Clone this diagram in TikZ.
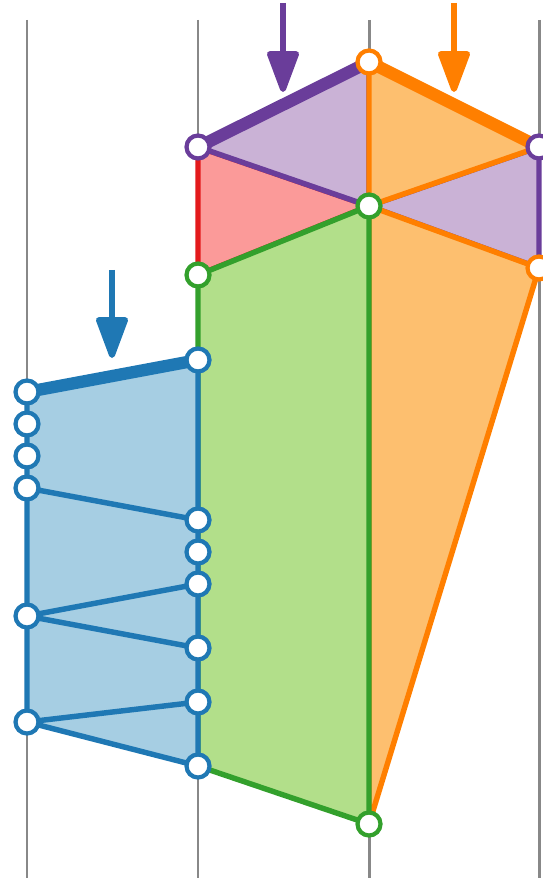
\documentclass[tikz,border=0pt]{standalone}
\usetikzlibrary{arrows.meta}
\definecolor{lblue}{RGB}{166,206,227}
\definecolor{dblue}{RGB}{31,120,180}
\definecolor{lgreen}{RGB}{178,223,138}
\definecolor{dgreen}{RGB}{51,160,44}
\definecolor{lred}{RGB}{251,154,153}
\definecolor{dred}{RGB}{227,26,28}
\definecolor{lorange}{RGB}{253,191,111}
\definecolor{dorange}{RGB}{255,127,0}
\definecolor{lpurple}{RGB}{202,178,214}
\definecolor{dpurple}{RGB}{106,61,154}
\definecolor{railgray}{RGB}{136,136,136}
\tikzset{
  rail/.style={line width=1.7pt, railgray},
  face/.style={line width=3.1pt, line join=round},
  rim/.style={line width=7pt, line cap=round},
  push/.style={-{Triangle[length=0.94cm,width=0.66cm,round]}, line width=3.4pt},
  ring/.style={circle, fill=white, line width=2.4pt, minimum size=0.46cm, inner sep=0pt},
}
\newcommand{\ringpt}[2]{%
  \node[ring, draw=#1] (n-#2) at (#2) {};
}

\begin{document}
\begin{tikzpicture}[x=0.02cm, y=-0.02cm]
    \useasboundingbox (0,0) rectangle (542,878);
    % vertical rails
    \foreach \x in {27,198,369,539}
      \draw[rail] (\x,20) -- (\x,878);
    % mesh points
    \coordinate (p1) at (198,147);
    \coordinate (top) at (369,62);
    \coordinate (p3) at (539,147);
    \coordinate (c) at (369,206);
    \coordinate (g1) at (198,275);
    \coordinate (o1) at (539,268);
    \coordinate (bot) at (369,824);
    \coordinate (g2) at (198,766);
    \foreach \i/\y in {1/392,2/424,3/456,4/488,5/616,6/722}
      \coordinate (l\i) at (27,\y);
    \foreach \i/\y in {1/360,2/520,3/552,4/584,5/648,6/702}
      \coordinate (r\i) at (198,\y);
    % red face
    \filldraw[face, fill=lred, draw=dred] (p1) -- (c) -- (g1) -- cycle;
    % purple faces
    \filldraw[face, fill=lpurple, draw=dpurple] (p1) -- (top) -- (c) -- cycle;
    \filldraw[face, fill=lpurple, draw=dpurple] (p3) -- (c) -- (o1) -- cycle;
    \draw[rim, dpurple] (p1) -- (top);
    % orange faces
    \filldraw[face, fill=lorange, draw=dorange] (top) -- (p3) -- (c) -- cycle;
    \filldraw[face, fill=lorange, draw=dorange] (c) -- (o1) -- (bot) -- cycle;
    \draw[rim, dorange] (top) -- (p3);
    % green face
    \filldraw[face, fill=lgreen, draw=dgreen] (g1) -- (c) -- (bot) -- (g2) -- cycle;
    % blue strip
    \filldraw[face, fill=lblue, draw=dblue] (l1) -- (r1) -- (g2) -- (l6) -- cycle;
    \draw[face, dblue] (l4) -- (r2);
    \draw[face, dblue] (r4) -- (l5) -- (r5);
    \draw[face, dblue] (r6) -- (l6);
    \draw[rim, dblue] (l1) -- (r1);
    % points
    \ringpt{dorange}{top}
    \ringpt{dpurple}{p1}
    \ringpt{dpurple}{p3}
    \ringpt{dgreen}{c}
    \ringpt{dgreen}{g1}
    \ringpt{dorange}{o1}
    \ringpt{dgreen}{bot}
    \foreach \i in {1,...,6} {\ringpt{dblue}{l\i}}
    \foreach \i in {1,...,6} {\ringpt{dblue}{r\i}}
    \ringpt{dblue}{g2}
    % loads
    \coordinate (a1) at (283,3);
    \coordinate (a2) at (283,92);
    \coordinate (b1) at (454,3);
    \coordinate (b2) at (454,92);
    \coordinate (d1) at (112,270);
    \coordinate (d2) at (112,358);
    \draw[push, dpurple] (a1) -- (a2);
    \draw[push, dorange] (b1) -- (b2);
    \draw[push, dblue] (d1) -- (d2);
\end{tikzpicture}
\end{document}
